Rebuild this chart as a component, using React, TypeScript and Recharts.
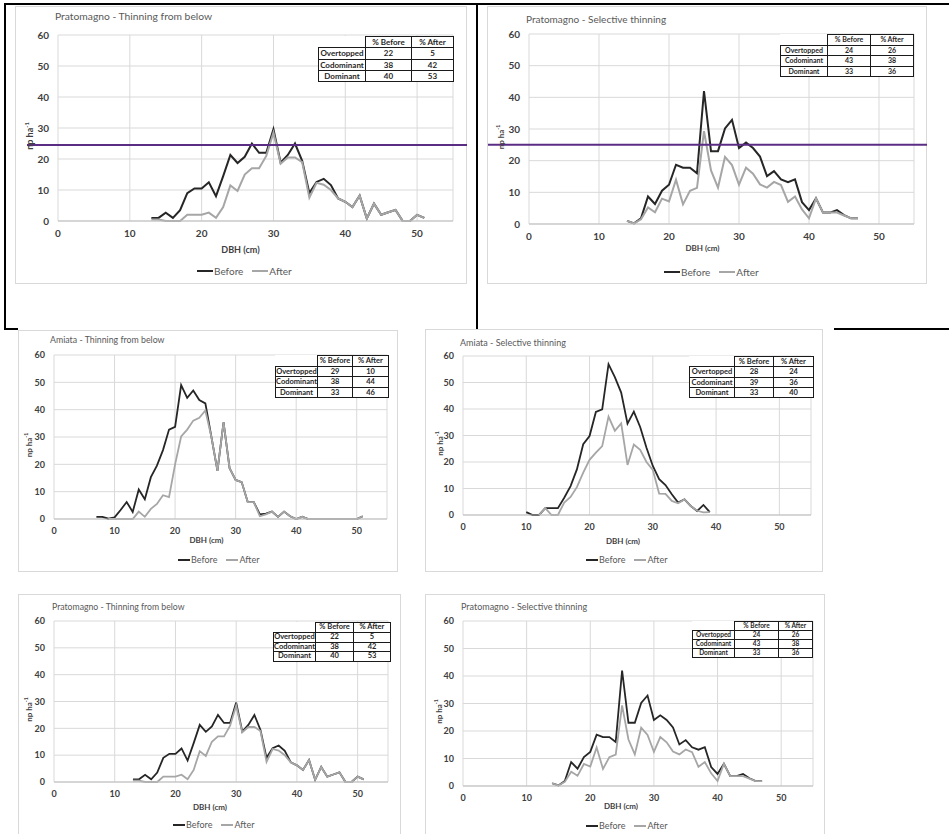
import { LineChart, Line, XAxis, YAxis, CartesianGrid, ReferenceLine } from "recharts";

// DBH classes (cm) and stem density (n ha-1) before / after thinning

const pratoBelowDbh = [13, 14, 15, 16, 17, 18, 19, 20, 21, 22, 23, 24, 25, 26, 27, 28, 29, 30, 31, 32, 33, 34, 35, 36, 37, 38, 39, 40, 41, 42, 43, 44, 45, 46, 47, 48, 49, 50, 51];
const pratoBelowBefore = [1, 1, 2.7, 1, 3.5, 9, 10.5, 10.5, 12.5, 8, 14.5, 21.3, 18.7, 20.7, 25, 22, 22, 29.6, 18.8, 21.3, 25, 19.4, 9, 12.6, 13.6, 11.6, 7.3, 6.2, 4.5, 8.2, 0.8, 5.6, 2, 2.8, 3.6, 0, 0, 2, 1];
const pratoBelowAfter = [0.5, 0.5, 0, 0, 0, 2, 2, 2, 2.7, 1, 4.5, 11.5, 9.7, 15, 17, 17, 21, 28.5, 18.5, 20.5, 20.5, 19, 7.5, 12.3, 11.7, 10, 7.3, 6.2, 4.5, 8.2, 0.8, 5.6, 2, 2.8, 3.6, 0, 0, 2, 1];
const pratoBelowShareBefore = [22, 38, 40];
const pratoBelowShareAfter = [5, 42, 53];

const pratoSelDbh = [14, 15, 16, 17, 18, 19, 20, 21, 22, 23, 24, 25, 26, 27, 28, 29, 30, 31, 32, 33, 34, 35, 36, 37, 38, 39, 40, 41, 42, 43, 44, 45, 46, 47];
const pratoSelBefore = [1, 0.2, 1.8, 8.7, 6.3, 10.5, 12.4, 18.7, 17.8, 17.8, 16, 42, 23, 23, 30.2, 32.9, 24, 25.7, 24, 21.3, 15.1, 16.7, 14.1, 13.2, 14.1, 6.9, 4.4, 8.1, 3.6, 3.6, 4.4, 2.8, 1.8, 1.8];
const pratoSelAfter = [1, 0.2, 1.5, 5.2, 3.7, 8, 7.1, 14, 6.2, 10.5, 11.4, 29.3, 16.9, 11.5, 21.2, 18.6, 12.4, 17.8, 15.9, 12.5, 11.5, 13.3, 12.3, 7, 8.7, 4.6, 1.8, 8.1, 3.6, 3.6, 3.6, 2.7, 1.8, 1.8];
const pratoSelShareBefore = [24, 43, 33];
const pratoSelShareAfter = [26, 38, 36];

const amiataBelowDbh = [7, 8, 9, 10, 11, 12, 13, 14, 15, 16, 17, 18, 19, 20, 21, 22, 23, 24, 25, 26, 27, 28, 29, 30, 31, 32, 33, 34, 35, 36, 37, 38, 39, 40, 41, 42, 43, 44, 45, 46, 47, 48, 49, 50, 51];
const amiataBelowBefore = [0.8, 0.8, 0.1, 0.6, 3.3, 6.2, 2.6, 10.8, 7.2, 15.3, 19.5, 25.2, 32.7, 33.7, 49, 44.3, 47, 43.5, 42.3, 30, 17.6, 35.4, 18.6, 14.3, 13.5, 6.2, 6.2, 1.7, 2, 2.7, 0.8, 2.7, 1, 0, 0.8, 0, 0, 0, 0, 0, 0, 0, 0, 0, 1];
const amiataBelowAfter = [null, null, 0, 0, 0, 0, 0, 2.7, 0.8, 3.7, 5.5, 8.7, 8, 20, 30.2, 32.7, 36, 37, 39.7, 30, 17.6, 35.4, 18.6, 14.3, 13.5, 6.2, 6.2, 1, 1.7, 2.7, 0.8, 2.7, 1, 0, 0.8, 0, 0, 0, 0, 0, 0, 0, 0, 0, 1];
const amiataBelowShareBefore = [29, 38, 33];
const amiataBelowShareAfter = [10, 44, 46];

const amiataSelDbh = [10, 11, 12, 13, 14, 15, 16, 17, 18, 19, 20, 21, 22, 23, 24, 25, 26, 27, 28, 29, 30, 31, 32, 33, 34, 35, 36, 37, 38, 39];
const amiataSelBefore = [1.1, 0, 0, 2.6, 2.6, 2.6, 6.5, 10.9, 17.2, 26.7, 29.8, 38.9, 39.9, 56.9, 52, 46.2, 34.5, 39, 33.2, 25.4, 18.5, 13.5, 11.3, 7.8, 4.7, 5.9, 3.4, 1.5, 3.8, 1.1];
const amiataSelAfter = [null, null, 0, 2.6, 0, 0, 4.7, 6.8, 10.5, 16, 20.8, 23.5, 26, 37.1, 31.8, 34.6, 18.9, 26.6, 24.6, 20, 17, 8.1, 8, 5.3, 4.4, 5.9, 3.4, 1.6, 1, 1.1];
const amiataSelShareBefore = [28, 39, 33];
const amiataSelShareAfter = [24, 36, 40];

const crownClasses = ["Overtopped", "Codominant", "Dominant"];
const xTicks = [0, 10, 20, 30, 40, 50];
const yTicks = [0, 10, 20, 30, 40, 50, 60];

const FONT = "Lato, 'Liberation Sans', sans-serif";
const BEFORE_COLOR = "#262626";
const AFTER_COLOR = "#a6a6a6";
const GRID = "#d9d9d9";
const TEXT = "#595959";

type Layout = {
  frame: { left: number; top: number; width: number; height: number };
  plot: { left: number; top: number; right: number; bottom: number };
  title: [number, number, number];
  tickSize: number;
  captionSize: number;
  xCaption: [number, number];
  yCaptionX: number;
  legend: [number, number, number, number];
  table: { left: number; top: number; cols: number[]; rowH: number; fontSize: number };
  lineWidth: number;
  guide?: { level: number; from: number; to: number };
};

type PanelProps = {
  title: string;
  dbh: number[];
  before: (number | null)[];
  after: (number | null)[];
  shareBefore: number[];
  shareAfter: number[];
  layout: Layout;
};

const PAD_L = 50;
const PAD_T = 10;
const PAD_R = 16;

function DbhPanel({ title, dbh, before, after, shareBefore, shareAfter, layout }: PanelProps) {
  const { frame, plot, table, guide } = layout;
  const rows = dbh.map((d, i) => ({ dbh: d, before: before[i], after: after[i] }));
  const plotW = plot.right - plot.left;
  const plotH = plot.bottom - plot.top;
  const xAxisH = layout.xCaption[0] - plot.bottom + 10;
  const width = plotW + PAD_L + PAD_R;
  const height = plotH + PAD_T + xAxisH + 2;
  const [titleX, titleY, titleSize] = layout.title;
  const [legX, legY, legSize, sampleW] = layout.legend;
  const tick = { fill: "#404040", fontSize: layout.tickSize, fontWeight: 700, fontFamily: FONT };

  return (
    <>
      <div
        style={{
          position: "absolute",
          left: frame.left,
          top: frame.top,
          width: frame.width,
          height: frame.height,
          border: `1px solid ${GRID}`,
          background: "#fff",
          boxSizing: "border-box",
        }}
      />
      <div
        style={{
          position: "absolute",
          left: titleX,
          top: titleY - titleSize * 0.65,
          fontSize: titleSize,
          lineHeight: `${titleSize * 1.3}px`,
          color: TEXT,
          fontFamily: FONT,
          whiteSpace: "nowrap",
        }}
      >
        {title}
      </div>
      <div style={{ position: "absolute", left: plot.left - PAD_L, top: plot.top - PAD_T }}>
        <LineChart
          width={width}
          height={height}
          data={rows}
          margin={{ top: PAD_T, right: PAD_R, bottom: 2, left: 0 }}
        >
          <CartesianGrid stroke={GRID} strokeWidth={1} />
          <XAxis
            type="number"
            dataKey="dbh"
            domain={[0, 55]}
            ticks={xTicks}
            tick={tick}
            tickLine={false}
            tickMargin={3}
            axisLine={{ stroke: "#bfbfbf" }}
            height={xAxisH}
            label={() => (
              <text
                x={PAD_L + plotW / 2 + layout.xCaption[1]}
                y={PAD_T + plotH + layout.xCaption[0] - plot.bottom}
                textAnchor="middle"
                dominantBaseline="central"
                fill="#404040"
                fontSize={layout.captionSize}
                fontWeight={700}
                fontFamily={FONT}
              >
                DBH (cm)
              </text>
            )}
          />
          <YAxis
            type="number"
            domain={[0, 60]}
            ticks={yTicks}
            tick={tick}
            tickLine={false}
            tickMargin={3}
            axisLine={false}
            width={PAD_L}
            label={() => {
              const cx = PAD_L - (plot.left - layout.yCaptionX);
              const cy = PAD_T + plotH / 2 + 8;
              return (
                <text
                  x={cx}
                  y={cy}
                  transform={`rotate(-90 ${cx} ${cy})`}
                  textAnchor="middle"
                  dominantBaseline="central"
                  fill="#404040"
                  fontSize={layout.captionSize}
                  fontWeight={700}
                  fontFamily={FONT}
                >
                  np ha
                  <tspan dy={-3} fontSize={layout.captionSize * 0.65}>
                    -1
                  </tspan>
                </text>
              );
            }}
          />
          <Line
            type="linear"
            dataKey="before"
            stroke={BEFORE_COLOR}
            strokeWidth={layout.lineWidth}
            dot={false}
            isAnimationActive={false}
          />
          <Line
            type="linear"
            dataKey="after"
            stroke={AFTER_COLOR}
            strokeWidth={layout.lineWidth}
            dot={false}
            isAnimationActive={false}
          />
          {guide && (
            <ReferenceLine
              y={guide.level}
              stroke="#5b2c83"
              strokeWidth={2}
              shape={(p: any) => (
                <line
                  x1={p.x1 - (plot.left - guide.from)}
                  x2={p.x2 + (guide.to - plot.right)}
                  y1={p.y1}
                  y2={p.y2}
                  stroke="#5b2c83"
                  strokeWidth={2}
                />
              )}
            />
          )}
        </LineChart>
      </div>
      <table
        style={{
          position: "absolute",
          left: table.left,
          top: table.top,
          borderCollapse: "collapse",
          tableLayout: "fixed",
          fontFamily: FONT,
          fontWeight: 700,
          fontSize: table.fontSize,
          color: "#262626",
          background: "#fff",
        }}
      >
        <colgroup>
          {table.cols.map((w, i) => (
            <col key={i} style={{ width: w }} />
          ))}
        </colgroup>
        <tbody>
          <tr style={{ height: table.rowH }}>
            <td style={{ border: "none", padding: 0 }} />
            <td style={cellStyle(table.rowH)}>% Before</td>
            <td style={cellStyle(table.rowH)}>% After</td>
          </tr>
          {crownClasses.map((c, i) => (
            <tr key={c} style={{ height: table.rowH }}>
              <td style={cellStyle(table.rowH)}>{c}</td>
              <td style={cellStyle(table.rowH)}>{shareBefore[i]}</td>
              <td style={cellStyle(table.rowH)}>{shareAfter[i]}</td>
            </tr>
          ))}
        </tbody>
      </table>
      <div
        style={{
          position: "absolute",
          left: legX,
          top: legY - legSize * 0.7,
          height: legSize * 1.4,
          display: "flex",
          alignItems: "center",
          fontFamily: FONT,
          fontSize: legSize,
          color: TEXT,
          whiteSpace: "nowrap",
        }}
      >
        <span style={{ width: sampleW, height: layout.lineWidth, background: BEFORE_COLOR, marginRight: 1 }} />
        <span>Before</span>
        <span style={{ width: sampleW, height: layout.lineWidth, background: AFTER_COLOR, marginLeft: 9, marginRight: 1 }} />
        <span>After</span>
      </div>
    </>
  );
}

function cellStyle(h: number): React.CSSProperties {
  return {
    border: "1px solid #1a1a1a",
    padding: 0,
    height: h - 1,
    lineHeight: `${h - 1}px`,
    textAlign: "center",
    whiteSpace: "nowrap",
    overflow: "hidden",
  };
}

const pratoBelowTop: Layout = {
  frame: { left: 15, top: 6, width: 452, height: 278 },
  plot: { left: 58, top: 35, right: 453, bottom: 221 },
  title: [55, 17, 10.3],
  tickSize: 10,
  captionSize: 9,
  xCaption: [249, -15],
  yCaptionX: 29,
  legend: [197, 271, 10, 16],
  table: { left: 318, top: 36, cols: [47, 46, 42], rowH: 11.25, fontSize: 8 },
  lineWidth: 2,
  guide: { level: 24.5, from: 27, to: 467 },
};

const pratoSelTop: Layout = {
  frame: { left: 487, top: 6, width: 440, height: 278 },
  plot: { left: 529, top: 34, right: 914, bottom: 224 },
  title: [526, 19, 10],
  tickSize: 10,
  captionSize: 8,
  xCaption: [248, -19],
  yCaptionX: 501,
  legend: [664, 272, 10, 16],
  table: { left: 780, top: 34, cols: [47, 43, 43], rowH: 10.5, fontSize: 7 },
  lineWidth: 2,
  guide: { level: 25, from: 488, to: 927 },
};

const amiataBelow: Layout = {
  frame: { left: 18, top: 330, width: 380, height: 242 },
  plot: { left: 54, top: 355, right: 387, bottom: 519 },
  title: [50, 340, 8.8],
  tickSize: 9,
  captionSize: 8,
  xCaption: [540, -14],
  yCaptionX: 29,
  legend: [178, 560, 9, 12],
  table: { left: 275, top: 355, cols: [42, 35, 36], rowH: 10.5, fontSize: 7.5 },
  lineWidth: 1.8,
};

const amiataSel: Layout = {
  frame: { left: 425, top: 329, width: 398, height: 243 },
  plot: { left: 463, top: 356, right: 811, bottom: 515 },
  title: [460, 343, 9],
  tickSize: 9,
  captionSize: 8,
  xCaption: [541, -14],
  yCaptionX: 440,
  legend: [586, 560, 9, 12],
  table: { left: 689, top: 356, cols: [45, 39, 40], rowH: 10.25, fontSize: 7.5 },
  lineWidth: 1.8,
};

const pratoBelowBottom: Layout = {
  frame: { left: 18, top: 594, width: 383, height: 250 },
  plot: { left: 54, top: 621, right: 388, bottom: 782 },
  title: [52, 607, 8.7],
  tickSize: 9,
  captionSize: 8,
  xCaption: [807, -11],
  yCaptionX: 29,
  legend: [173, 825, 9, 12],
  table: { left: 273, top: 622, cols: [42, 38, 37], rowH: 9.75, fontSize: 7.5 },
  lineWidth: 1.8,
};

const pratoSelBottom: Layout = {
  frame: { left: 425, top: 594, width: 400, height: 250 },
  plot: { left: 463, top: 621, right: 813, bottom: 786 },
  title: [461, 607, 9],
  tickSize: 9,
  captionSize: 8,
  xCaption: [806, -17],
  yCaptionX: 439,
  legend: [586, 826, 9, 12],
  table: { left: 692, top: 621, cols: [42, 44, 34], rowH: 9, fontSize: 6.5 },
  lineWidth: 1.8,
};

function Rule({ left, top, width, height }: { left: number; top: number; width: number; height: number }) {
  return <div style={{ position: "absolute", left, top, width, height, background: "#000" }} />;
}

export default function App() {
  return (
    <div
      style={{
        position: "absolute",
        left: 0,
        top: 0,
        width: 949,
        height: 834,
        overflow: "hidden",
        background: "#fff",
      }}
    >
      {/* outer frame around the Pratomagno pair */}
      <Rule left={4} top={3} width={945} height={2} />
      <Rule left={4} top={3} width={2} height={327} />
      <Rule left={476} top={3} width={2} height={326} />
      <Rule left={4} top={328} width={14} height={2} />
      <Rule left={834} top={328} width={115} height={2} />

      <DbhPanel
        title="Pratomagno - Thinning from below"
        dbh={pratoBelowDbh}
        before={pratoBelowBefore}
        after={pratoBelowAfter}
        shareBefore={pratoBelowShareBefore}
        shareAfter={pratoBelowShareAfter}
        layout={pratoBelowTop}
      />
      <DbhPanel
        title="Pratomagno - Selective thinning"
        dbh={pratoSelDbh}
        before={pratoSelBefore}
        after={pratoSelAfter}
        shareBefore={pratoSelShareBefore}
        shareAfter={pratoSelShareAfter}
        layout={pratoSelTop}
      />
      <DbhPanel
        title="Amiata - Thinning from below"
        dbh={amiataBelowDbh}
        before={amiataBelowBefore}
        after={amiataBelowAfter}
        shareBefore={amiataBelowShareBefore}
        shareAfter={amiataBelowShareAfter}
        layout={amiataBelow}
      />
      <DbhPanel
        title="Amiata - Selective thinning"
        dbh={amiataSelDbh}
        before={amiataSelBefore}
        after={amiataSelAfter}
        shareBefore={amiataSelShareBefore}
        shareAfter={amiataSelShareAfter}
        layout={amiataSel}
      />
      <DbhPanel
        title="Pratomagno - Thinning from below"
        dbh={pratoBelowDbh}
        before={pratoBelowBefore}
        after={pratoBelowAfter}
        shareBefore={pratoBelowShareBefore}
        shareAfter={pratoBelowShareAfter}
        layout={pratoBelowBottom}
      />
      <DbhPanel
        title="Pratomagno - Selective thinning"
        dbh={pratoSelDbh}
        before={pratoSelBefore}
        after={pratoSelAfter}
        shareBefore={pratoSelShareBefore}
        shareAfter={pratoSelShareAfter}
        layout={pratoSelBottom}
      />
    </div>
  );
}
